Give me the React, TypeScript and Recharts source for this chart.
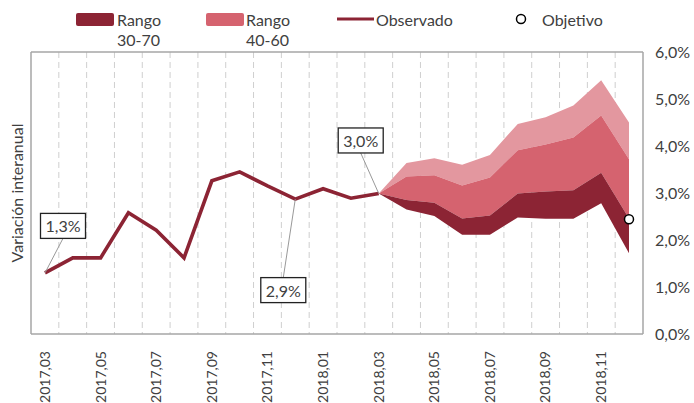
import React from "react";
import {
  ComposedChart,
  Area,
  Line,
  XAxis,
  YAxis,
  CartesianGrid,
  LabelList,
} from "recharts";

const months = [
  "2017,03", "2017,04", "2017,05", "2017,06", "2017,07", "2017,08",
  "2017,09", "2017,10", "2017,11", "2017,12", "2018,01", "2018,02",
  "2018,03", "2018,04", "2018,05", "2018,06", "2018,07", "2018,08",
  "2018,09", "2018,10", "2018,11", "2018,12",
];

const observed = [
  1.3, 1.62, 1.62, 2.58, 2.21, 1.62, 3.26, 3.45, 3.15, 2.87, 3.09, 2.89, 2.99,
  null, null, null, null, null, null, null, null, null,
];

const E = null;
// fan bands from 2018,03 onward
const fanLow = [E, E, E, E, E, E, E, E, E, E, E, E, 2.99, 2.65, 2.51, 2.11, 2.11, 2.48, 2.45, 2.45, 2.78, 1.72];
const fanDarkTop = [E, E, E, E, E, E, E, E, E, E, E, E, 2.99, 2.85, 2.79, 2.46, 2.52, 2.99, 3.03, 3.06, 3.43, 2.46];
const fanMidTop = [E, E, E, E, E, E, E, E, E, E, E, E, 2.99, 3.35, 3.38, 3.16, 3.33, 3.91, 4.03, 4.18, 4.65, 3.72];
const fanHigh = [E, E, E, E, E, E, E, E, E, E, E, E, 2.99, 3.64, 3.74, 3.6, 3.81, 4.47, 4.61, 4.86, 5.4, 4.5];

const objetivo = [E, E, E, E, E, E, E, E, E, E, E, E, E, E, E, E, E, E, E, E, E, 2.44];

const yTicks = [0, 1, 2, 3, 4, 5, 6];

const annotatedMonths = ["2017,03", "2017,12", "2018,03"];

const DARK = "#8C2434";
const MID = "#D5636F";
const LIGHT = "#E3979F";
const TEXT = "#404040";
const FONT = "Lato, 'Open Sans', sans-serif";

const data = months.map((m, i) => ({
  month: m,
  obs: observed[i],
  dark: fanLow[i] == null ? null : [fanLow[i], fanDarkTop[i]],
  mid: fanLow[i] == null ? null : [fanDarkTop[i], fanMidTop[i]],
  light: fanLow[i] == null ? null : [fanMidTop[i], fanHigh[i]],
  obj: objetivo[i],
}));

const pct = (v: number) => v.toFixed(1).replace(".", ",") + "%";

// box placement relative to the annotated point
const boxOffset: Record<string, { dx: number; dy: number }> = {
  "2017,03": { dx: 18, dy: -47 },
  "2017,12": { dx: -12, dy: 91 },
  "2018,03": { dx: -18, dy: -53 },
};

const Annotation = (props: any) => {
  const { x, y, value, index } = props;
  const m = months[index];
  if (!annotatedMonths.includes(m) || value == null) return null;
  const { dx, dy } = boxOffset[m];
  const w = 45;
  const h = 25;
  const cx = x + dx;
  const cy = y + dy;
  const edgeY = dy < 0 ? cy + h / 2 : cy - h / 2;
  return (
    <g>
      <line x1={cx} y1={edgeY} x2={x} y2={y} stroke="#999" strokeWidth={1} />
      <rect x={cx - w / 2} y={cy - h / 2} width={w} height={h} fill="#fff" stroke="#222" strokeWidth={1.3} />
      <text x={cx} y={cy} textAnchor="middle" dominantBaseline="central" fontSize={16} fill={TEXT} fontFamily={FONT}>
        {pct(value)}
      </text>
    </g>
  );
};

const MonthTick = (props: any) => {
  const { x, y, payload } = props;
  return (
    <g transform={`translate(${x},${y + 9}) rotate(-90)`}>
      <text x={0} y={0} dy="0.35em" textAnchor="end" fontSize={14} fill={TEXT} fontFamily={FONT}>
        {payload.value}
      </text>
    </g>
  );
};

const Legend = () => (
  <svg
    width={694}
    height={52}
    style={{ position: "absolute", left: 0, top: 0 }}
    fontFamily={FONT}
    fontSize={16}
    fill={TEXT}
  >
    <rect x={76} y={13} width={38} height={13} rx={2} fill={DARK} />
    <text x={117} y={26}>Rango</text>
    <text x={117} y={46}>30-70</text>
    <rect x={206} y={13} width={38} height={13} rx={2} fill={MID} />
    <text x={246} y={26}>Rango</text>
    <text x={246} y={46}>40-60</text>
    <line x1={337} x2={374} y1={19} y2={19} stroke={DARK} strokeWidth={3} />
    <text x={376} y={26}>Observado</text>
    <circle cx={521} cy={19} r={4.5} fill="#fff" stroke="#000" strokeWidth={1.5} />
    <text x={542} y={26}>Objetivo</text>
  </svg>
);

export default function App() {
  return (
    <div style={{ position: "absolute", left: 0, top: 0, width: 694, height: 403, overflow: "hidden", background: "#fff" }}>
      <ComposedChart
        width={694}
        height={403}
        data={data}
        margin={{ top: 52, right: 6, bottom: 9, left: 0 }}
      >
        <CartesianGrid
          horizontal={false}
          stroke="#cfcfcf"
          strokeDasharray="6 4"
          verticalCoordinatesGenerator={({ offset }: any) =>
            months.slice(1).map((_, k) => offset.left + ((k + 1) * offset.width) / months.length)
          }
        />
        <CartesianGrid
          stroke="#a6a6a6"
          strokeWidth={1.5}
          horizontalCoordinatesGenerator={({ offset }: any) => [offset.top, offset.top + offset.height]}
          verticalCoordinatesGenerator={({ offset }: any) => [offset.left, offset.left + offset.width]}
        />
        <XAxis
          dataKey="month"
          interval={1}
          height={60}
          axisLine={false}
          tickLine={false}
          padding={{ left: 14, right: 14 }}
          tick={<MonthTick />}
        />
        <YAxis
          yAxisId="lbl"
          orientation="left"
          width={31}
          tick={false}
          axisLine={false}
          tickLine={false}
          label={{
            value: "Variación interanual",
            angle: -90,
            position: "center",
            dx: 2,
            fontSize: 16,
            fill: TEXT,
            fontFamily: FONT,
          }}
        />
        <YAxis
          orientation="right"
          width={45}
          domain={[0, 6]}
          ticks={yTicks}
          axisLine={false}
          tickLine={false}
          tickMargin={6}
          tickFormatter={pct}
          tick={{ fontSize: 16, fill: TEXT, fontFamily: FONT }}
        />
        <Area dataKey="light" type="linear" stroke="none" fill={LIGHT} fillOpacity={1} isAnimationActive={false} activeDot={false} />
        <Area dataKey="mid" type="linear" stroke="none" fill={MID} fillOpacity={1} isAnimationActive={false} activeDot={false} />
        <Area dataKey="dark" type="linear" stroke="none" fill={DARK} fillOpacity={1} isAnimationActive={false} activeDot={false} />
        <Line dataKey="obs" type="linear" stroke={DARK} strokeWidth={3.6} dot={false} isAnimationActive={false}>
          <LabelList dataKey="obs" content={<Annotation />} />
        </Line>
        <Line
          dataKey="obj"
          stroke="none"
          dot={{ r: 4.5, fill: "#fff", stroke: "#000", strokeWidth: 1.5 }}
          isAnimationActive={false}
          activeDot={false}
        />
      </ComposedChart>
      <Legend />
    </div>
  );
}
